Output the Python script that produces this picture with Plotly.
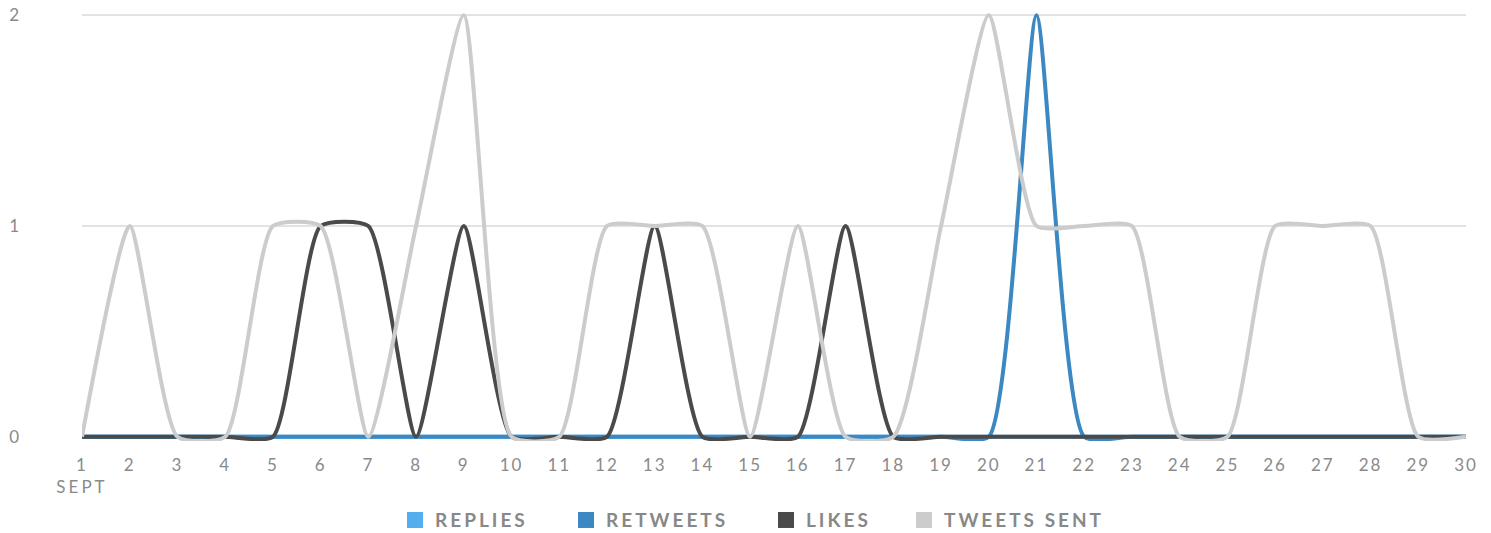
import plotly.graph_objects as go

days = list(range(1, 31))
replies = [0] * 30
retweets = [0, 0, 0, 0, 0, 0, 0, 0, 0, 0, 0, 0, 0, 0, 0, 0, 0, 0, 0, 0, 2, 0, 0, 0, 0, 0, 0, 0, 0, 0]
likes = [0, 0, 0, 0, 0, 1, 1, 0, 1, 0, 0, 0, 1, 0, 0, 0, 1, 0, 0, 0, 0, 0, 0, 0, 0, 0, 0, 0, 0, 0]
tweets_sent = [0, 1, 0, 0, 1, 1, 0, 1, 2, 0, 0, 1, 1, 1, 0, 1, 0, 0, 1, 2, 1, 1, 1, 0, 0, 1, 1, 1, 0, 0]

series = [
    ("REPLIES", replies, "#55acee"),
    ("RETWEETS", retweets, "#3b88c3"),
    ("LIKES", likes, "#4a4a4a"),
    ("TWEETS SENT", tweets_sent, "#cccccc"),
]

month_label = "SEPT"
# horizontal placement (paper fraction) of each legend entry
legend_x = [(395 - 82) / 1384, (566 - 82) / 1384, (766 - 82) / 1384, (904 - 82) / 1384]


def spaced(txt, px):
    return '<span style="letter-spacing:%dpx">%s</span>' % (px, txt)


tick_text = [spaced("1", 2) + "<br>" + spaced(month_label, 3)] + [spaced(str(d), 2) for d in days[1:]]

fig = go.Figure()
for name, vals, color in series:
    fig.add_trace(go.Scatter(
        x=days, y=vals, mode="lines", name=name, showlegend=False,
        line=dict(color=color, width=4, shape="spline", smoothing=0.55),
        hoverinfo="skip",
    ))

legend_ids = ["legend", "legend2", "legend3", "legend4"]
for (name, vals, color), lid in zip(series, legend_ids):
    fig.add_trace(go.Scatter(
        x=[None], y=[None], mode="markers", name=spaced(name, 3), legend=lid,
        marker=dict(symbol="square", size=18, color=color),
    ))

legend_style = dict(
    orientation="h", xanchor="left", y=-0.184, yanchor="middle",
    font=dict(family="Lato", size=19, color="#888888", weight="bold"),
    itemsizing="trace", bgcolor="rgba(0,0,0,0)",
)

fig.update_layout(
    width=1491, height=533,
    margin=dict(l=82, r=25, t=11, b=92, autoexpand=False),
    paper_bgcolor="white", plot_bgcolor="white",
    font=dict(family="Lato", color="#888888", size=17),
    showlegend=True,
    legend=dict(x=legend_x[0], **legend_style),
    legend2=dict(x=legend_x[1], **legend_style),
    legend3=dict(x=legend_x[2], **legend_style),
    legend4=dict(x=legend_x[3], **legend_style),
    xaxis=dict(
        range=[1, 30], tickmode="array", tickvals=days, ticktext=tick_text,
        showgrid=False, zeroline=False, showline=False,
        tickfont=dict(size=17, color="#8a8a8a"),
        ticklabelstandoff=12,
    ),
    yaxis=dict(
        range=[-0.02, 2.02], tickvals=[0, 1, 2],
        showgrid=True, gridcolor="#e3e3e3", gridwidth=2, zeroline=False, showline=False,
        tickfont=dict(size=17, color="#8a8a8a"),
        ticklabelstandoff=62,
    ),
)

fig.write_html("out.html")
